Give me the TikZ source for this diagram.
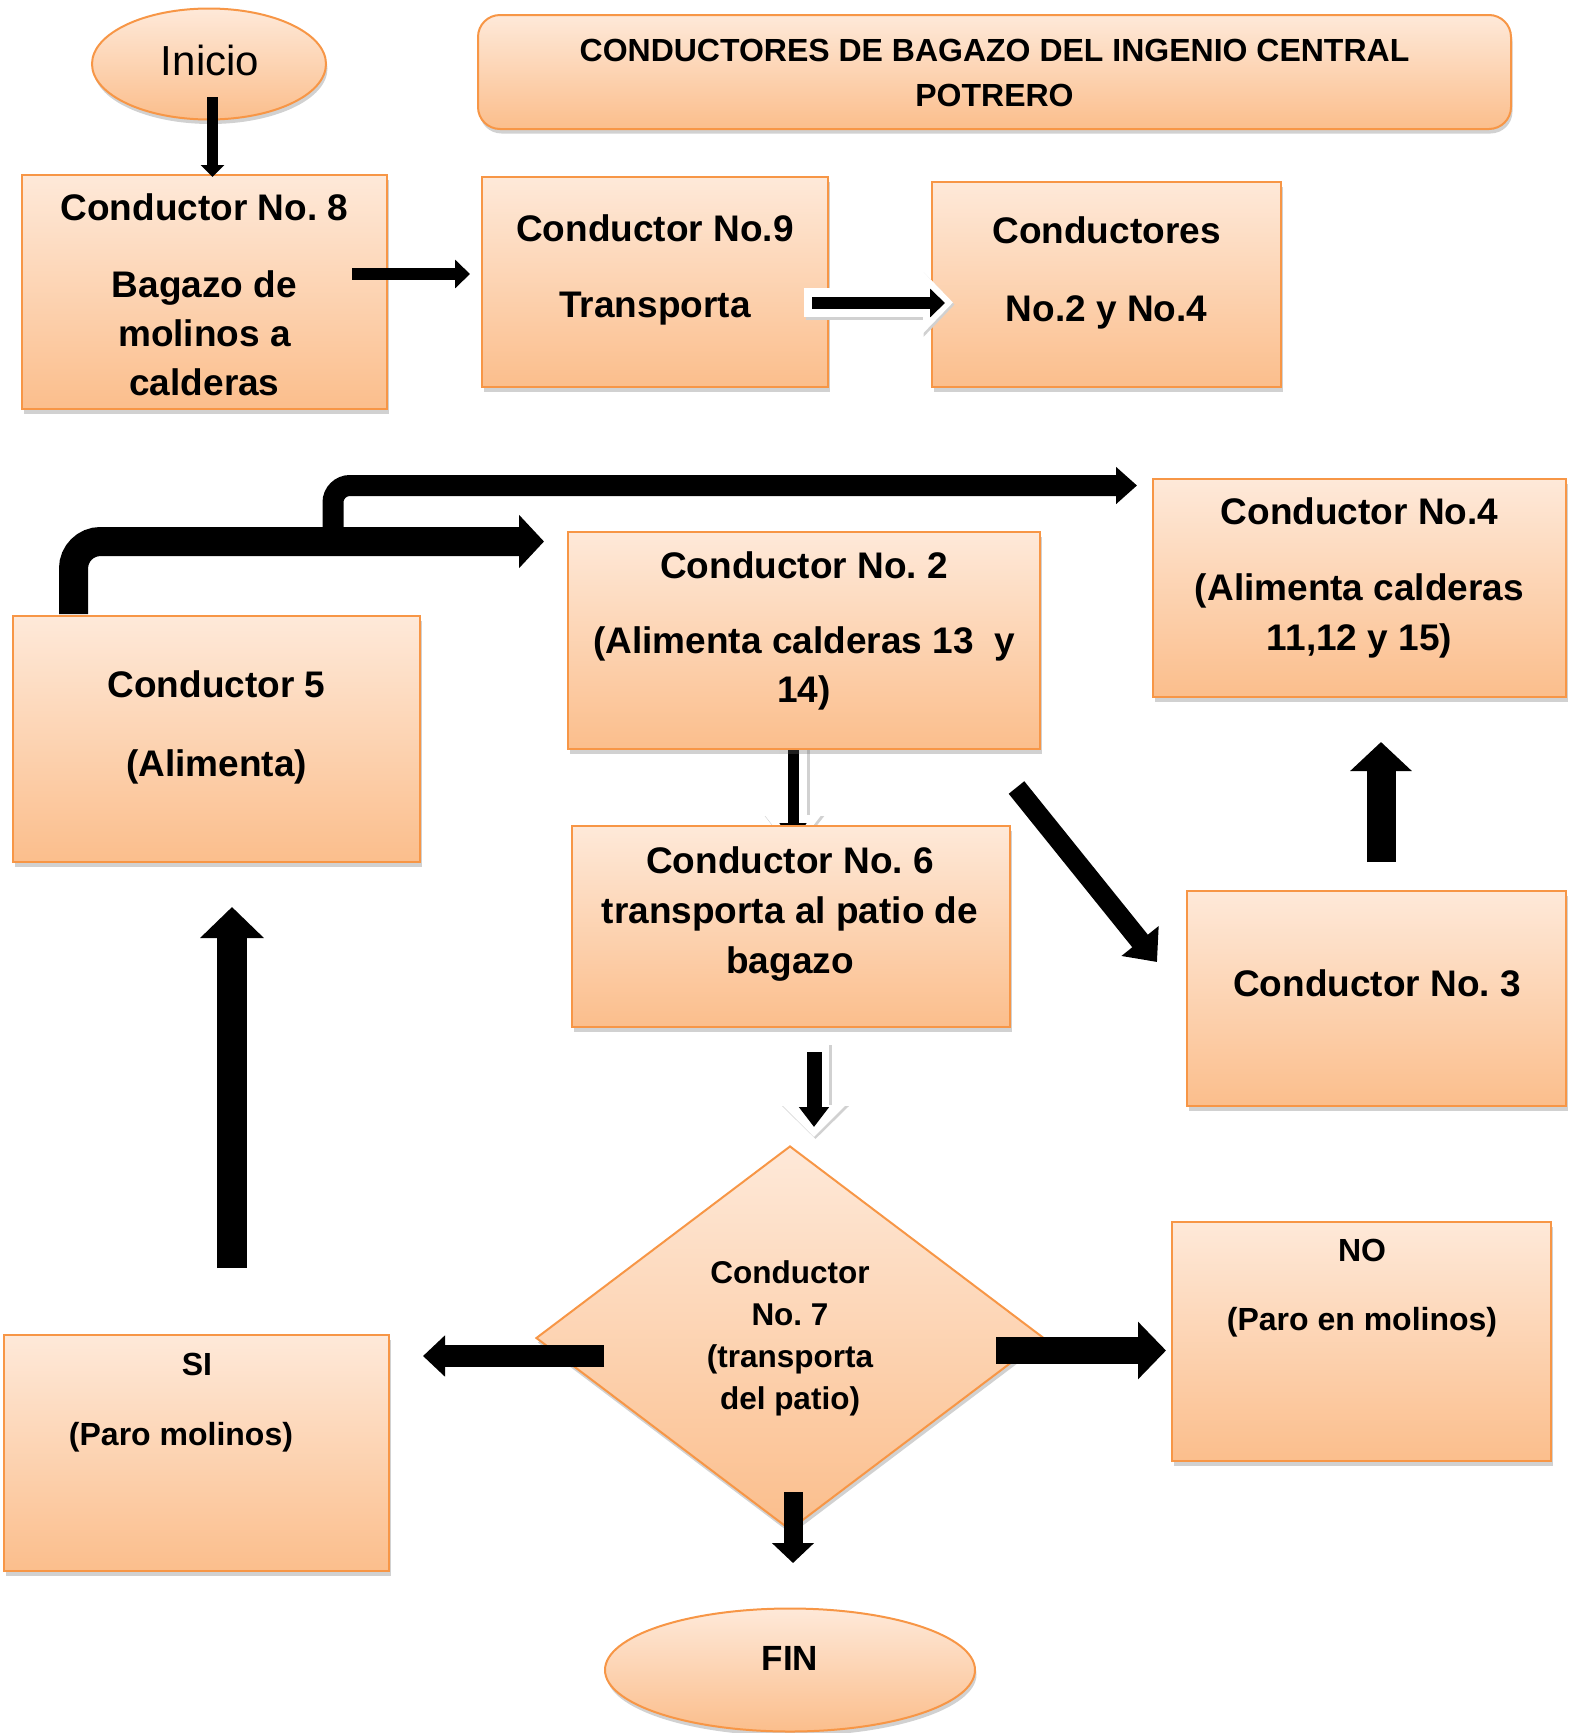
\documentclass[tikz,border=0pt]{standalone}
\usepackage{fontspec}
\setmainfont{Liberation Sans}
\usetikzlibrary{shapes.geometric,shadows,arrows.meta}
\definecolor{boxtop}{RGB}{254,233,217}
\definecolor{boxbot}{RGB}{251,190,140}
\definecolor{boxline}{RGB}{247,150,70}
\tikzset{
  cbox/.style={draw=boxline, line width=2pt, top color=boxtop, bottom color=boxbot, inner sep=0pt,
    drop shadow={shadow xshift=1.5pt, shadow yshift=-4.5pt, opacity=0.3, fill=black!60}},
  bigtxt/.style={font=\bfseries\fontsize{37}{49}\selectfont, align=center, inner sep=0pt},
  midtxt/.style={font=\bfseries\fontsize{32}{50}\selectfont, align=center, inner sep=0pt},
  blkarrow/.style={draw=black, line width=#1},
  whtarrow/.style={draw=white, line width=#1},
  shdarrow/.style={draw=black!18, line width=#1},
}
\begin{document}
\frenchspacing
\begin{tikzpicture}[x=1pt,y=-1pt]
\useasboundingbox (0,0) rectangle (1573,1733);

% arrow behind boxes: Conductor 2 -> Conductor 6
\coordinate (a26s) at (793,745);
\coordinate (a26e) at (793,852);
\coordinate (a26eb) at (793,843);
\draw[shdarrow=30pt, -{Triangle[length=38pt,width=57pt]}, black!18, transform canvas={xshift=1.5pt,yshift=-2pt}] (a26s) -- (a26e);
\draw[whtarrow=28pt, -{Triangle[length=37pt,width=54pt]}, white] (a26s) -- (a26e);
\draw[blkarrow=11pt, -{Triangle[length=20pt,width=26pt]}] (a26s) -- (a26eb);

% shapes
\node[cbox, ellipse, minimum width=234pt, minimum height=111pt] (inicio) at (209,64) {};
\node[cbox, rounded corners=22pt, minimum width=1033pt, minimum height=114pt] (title) at (994.5,72) {};
\node[cbox, minimum width=365pt, minimum height=234pt] (c8) at (204.5,292) {};
\node[cbox, minimum width=346pt, minimum height=210pt] (c9) at (655,282) {};
\node[cbox, minimum width=349pt, minimum height=205pt] (c24) at (1106.5,284.5) {};
\node[cbox, minimum width=407pt, minimum height=246pt] (c5) at (216.5,739) {};
\node[cbox, minimum width=472pt, minimum height=217pt] (c2) at (804,640.5) {};
\node[cbox, minimum width=413pt, minimum height=218pt] (c4) at (1359.5,588) {};
\node[cbox, minimum width=438pt, minimum height=201pt] (c6) at (791,926.5) {};
\node[cbox, minimum width=379pt, minimum height=215pt] (c3) at (1376.5,998.5) {};
\node[cbox, minimum width=385pt, minimum height=236pt] (si) at (196.5,1453) {};
\node[cbox, minimum width=379pt, minimum height=239pt] (no) at (1361.5,1341.5) {};
\node[cbox, diamond, minimum width=508pt, minimum height=384pt,
      font=\bfseries\fontsize{31.5}{42}\selectfont, align=center] (d7) at (790,1338)
      {Conductor\\No. 7\\(transporta\\del patio)};
\node[cbox, ellipse, minimum width=370pt, minimum height=123pt] (fin) at (790,1670) {};

% texts
\node[anchor=base, font=\fontsize{42}{50}\selectfont, inner sep=0pt] (tini) at (210,75) {Inicio};
\node[midtxt, anchor=north, font=\bfseries\fontsize{32}{45}\selectfont] (ttitle) at (994.5,38.6) {CONDUCTORES DE BAGAZO DEL INGENIO CENTRAL\\POTRERO};
\node[bigtxt, anchor=north] (t8) at (204.5,193) {Conductor No. 8\\[28pt]Bagazo de\\molinos a\\calderas};
\node[bigtxt, anchor=north] (t9) at (655,214) {Conductor No.9\\[27pt]Transporta};
\node[bigtxt, anchor=north] (t24) at (1106.5,216) {Conductores\\[29pt]No.2 y No.4};
\node[bigtxt, anchor=north] (t5) at (216.5,670) {Conductor 5\\[30pt](Alimenta)};
\node[bigtxt, anchor=north] (t2) at (804,551) {Conductor No. 2\\[26pt](Alimenta calderas 13\ \ y\\14)};
\node[bigtxt, anchor=north] (t4) at (1359.5,497) {Conductor No.4\\[27pt](Alimenta calderas\\[1pt]11,12 y 15)};
\node[bigtxt, anchor=north] (t6) at (790,846) {Conductor No. 6\\[1pt]transporta al patio de\\[1pt]bagazo};
\node[bigtxt, anchor=base] (t3) at (1377,996) {Conductor No. 3};
\node[midtxt, anchor=north] (tsi) at (197,1352.6) {SI\\[20pt](Paro molinos)\hspace*{32pt}};
\node[midtxt, anchor=north] (tno) at (1362,1238.6) {NO\\[19pt](Paro en molinos)};
\node[anchor=base, font=\bfseries\fontsize{35}{42}\selectfont, inner sep=0pt] (tfin) at (790,1670) {FIN};

% arrow end points
\coordinate (a1s) at (212.5,97);   \coordinate (a1e) at (212.5,177);
\coordinate (a2s) at (352,274);    \coordinate (a2e) at (470,274);
\coordinate (a3s) at (804,302.5);  \coordinate (a3e) at (953,302.5);
\coordinate (a3bs) at (812,303);   \coordinate (a3be) at (945,303);
\coordinate (a5s) at (814,1043);   \coordinate (a5e) at (814,1137);
\coordinate (a5bs) at (814,1052);  \coordinate (a5be) at (814,1127);
\coordinate (a6s) at (73.5,614);   \coordinate (a6m) at (73.5,541.5);  \coordinate (a6e) at (544,541.5);
\coordinate (a7s) at (333,541);    \coordinate (a7m) at (333,485.5);   \coordinate (a7e) at (1137,485.5);
\coordinate (a8s) at (1016.5,787.5); \coordinate (a8e) at (1157,962);
\coordinate (a9s) at (1381,862);   \coordinate (a9e) at (1381,742);
\coordinate (a10s) at (232,1268);  \coordinate (a10e) at (232,907);
\coordinate (a11s) at (604,1356);  \coordinate (a11e) at (423,1356);
\coordinate (a12s) at (996,1350.5); \coordinate (a12e) at (1166,1350.5);
\coordinate (a13s) at (793,1492);  \coordinate (a13e) at (793,1563);

% arrows
\draw[blkarrow=11pt, -{Triangle[length=12pt,width=23pt]}] (a1s) -- (a1e);
\draw[blkarrow=12pt, -{Triangle[length=15pt,width=28pt]}] (a2s) -- (a2e);
\draw[shdarrow=31pt, -{Triangle[length=31pt,width=63pt]}, black!18, transform canvas={xshift=1.5pt,yshift=-2pt}] (a3s) -- (a3e);
\draw[whtarrow=29pt, -{Triangle[length=30pt,width=60pt]}, white] (a3s) -- (a3e);
\draw[blkarrow=12pt, -{Triangle[length=15pt,width=28pt]}] (a3bs) -- (a3be);
\draw[shdarrow=32pt, -{Triangle[length=33pt,width=65pt]}, black!18, transform canvas={xshift=1.5pt,yshift=-2pt}] (a5s) -- (a5e);
\draw[whtarrow=30pt, -{Triangle[length=32pt,width=62pt]}, white] (a5s) -- (a5e);
\draw[blkarrow=15pt, -{Triangle[length=20pt,width=29pt]}] (a5bs) -- (a5be);
\draw[blkarrow=29pt, rounded corners=27pt, -{Triangle[length=25pt,width=52pt]}] (a6s) -- (a6m) -- (a6e);
\draw[blkarrow=21pt, rounded corners=17pt, -{Triangle[length=21pt,width=36pt]}] (a7s) -- (a7m) -- (a7e);
\draw[blkarrow=20pt, -{Triangle[length=27pt,width=46pt]}] (a8s) -- (a8e);
\draw[blkarrow=29pt, -{Triangle[length=29pt,width=60pt]}] (a9s) -- (a9e);
\draw[blkarrow=30pt, -{Triangle[length=31pt,width=62pt]}] (a10s) -- (a10e);
\draw[blkarrow=22pt, -{Triangle[length=22pt,width=40pt]}] (a11s) -- (a11e);
\draw[blkarrow=27pt, -{Triangle[length=28pt,width=56pt]}] (a12s) -- (a12e);
\draw[blkarrow=19pt, -{Triangle[length=20pt,width=41pt]}] (a13s) -- (a13e);
\end{tikzpicture}
\end{document}
